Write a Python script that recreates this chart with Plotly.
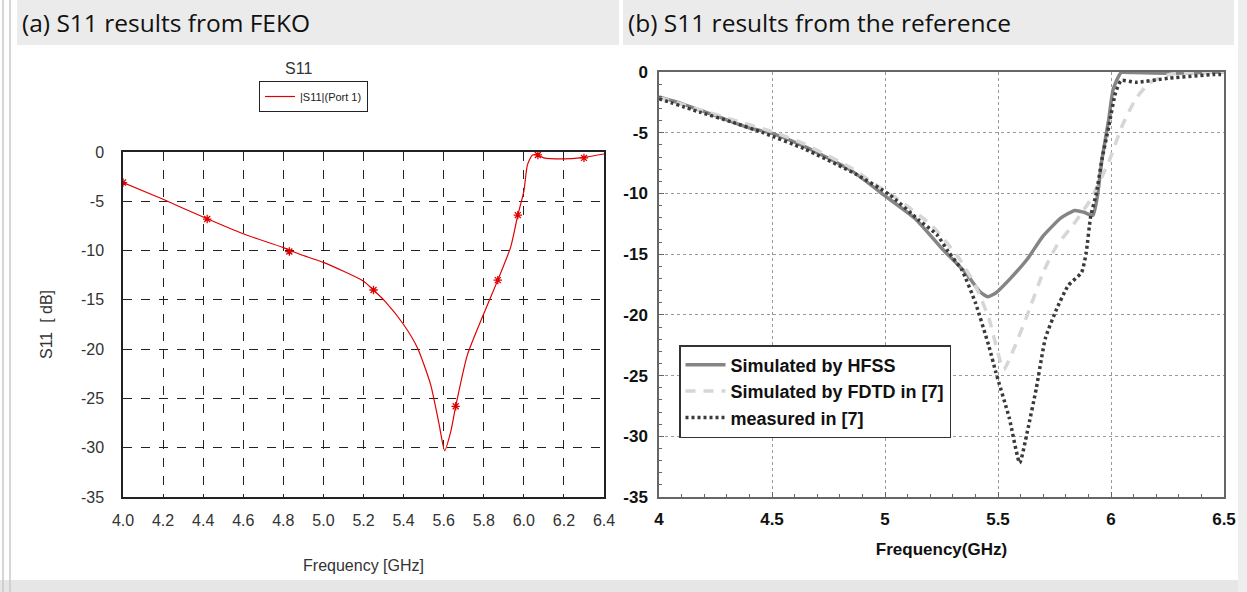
import plotly.graph_objects as go

W, H = 1247, 592

# ---------------- Data: (a) FEKO ----------------
feko_freq = [4.0, 4.2, 4.4, 4.6, 4.8, 4.885, 5.0, 5.2, 5.25, 5.31, 5.4, 5.47, 5.535, 5.577, 5.605,
             5.635, 5.66, 5.718, 5.8, 5.868, 5.935, 5.97, 6.0, 6.018, 6.043, 6.07, 6.1, 6.2, 6.28, 6.4]
feko_s11 = [-3.1, -4.8, -6.6, -8.3, -9.7, -10.4, -11.2, -13.1, -14.0, -15.2, -17.5, -19.9, -23.6, -27.6, -30.3,
            -28.4, -25.8, -20.6, -16.4, -13.1, -9.6, -6.4, -4.0, -1.3, -0.3, -0.3, -0.6, -0.7, -0.6, -0.2]
feko_mark_freq = [4.0, 4.42, 4.83, 5.25, 5.66, 5.87, 5.97, 6.07, 6.3]
feko_mark_s11 = [-3.1, -6.8, -10.1, -14.0, -25.8, -13.0, -6.4, -0.3, -0.6]
feko_xticks = [4.0, 4.2, 4.4, 4.6, 4.8, 5.0, 5.2, 5.4, 5.6, 5.8, 6.0, 6.2, 6.4]
feko_yticks = [0, -5, -10, -15, -20, -25, -30, -35]

# ---------------- Data: (b) reference ----------------
hfss_freq = [4.0, 4.1, 4.25, 4.4, 4.5, 4.64, 4.85, 5.0, 5.135, 5.255, 5.36, 5.42, 5.455, 5.49, 5.55,
             5.63, 5.70, 5.78, 5.84, 5.88, 5.92, 5.94, 5.96, 5.99, 6.01, 6.045, 6.1, 6.25, 6.5]
hfss_s11 = [-2.05, -2.6, -3.6, -4.6, -5.05, -6.1, -8.1, -10.2, -12.1, -14.6, -16.6, -18.1, -18.5, -18.2, -17.1,
            -15.4, -13.5, -12.0, -11.4, -11.55, -11.8, -10.2, -7.2, -3.9, -1.4, -0.05, -0.05, -0.1, 0.0]

fdtd_freq = [4.0, 4.18, 4.32, 4.5, 4.64, 4.85, 5.0, 5.06, 5.21, 5.33, 5.40, 5.46, 5.525, 5.57, 5.63,
             5.70, 5.76, 5.84, 5.91, 5.99, 6.05, 6.11, 6.17, 6.26, 6.5]
fdtd_s11 = [-2.1, -3.1, -3.9, -4.9, -5.9, -7.9, -9.8, -10.5, -12.7, -15.4, -17.6, -20.3, -24.5, -22.8, -20.0,
            -16.5, -14.3, -12.4, -10.5, -7.4, -4.4, -2.2, -0.9, -0.2, 0.0]

meas_freq = [4.0, 4.18, 4.32, 4.46, 4.64, 4.87, 5.02, 5.15, 5.23, 5.28, 5.34, 5.40, 5.46, 5.49, 5.55,
             5.596, 5.63, 5.67, 5.71, 5.76, 5.81, 5.87, 5.89, 5.91, 5.935, 5.96, 5.99, 6.02, 6.045,
             6.11, 6.26, 6.46, 6.5]
meas_s11 = [-2.2, -3.3, -4.1, -5.0, -6.3, -8.4, -10.1, -12.2, -13.4, -14.8, -16.3, -19.0, -22.6, -24.7, -28.5,
            -32.2, -29.6, -26.0, -21.9, -19.5, -17.6, -16.5, -14.9, -11.9, -10.0, -7.2, -4.5, -1.7, -0.7,
            -0.85, -0.5, -0.2, -0.2]
ref_xticks = [4, 4.5, 5, 5.5, 6, 6.5]
ref_xlabels = ["4", "4.5", "5", "5.5", "6", "6.5"]
ref_yticks = [0, -5, -10, -15, -20, -25, -30, -35]


def px(x):
    return x / W


def py(y):
    return 1 - y / H


fig = go.Figure()

# (a) FEKO traces
fig.add_trace(go.Scatter(x=feko_freq, y=feko_s11, mode="lines", name="|S11|(Port 1)",
                         line=dict(color="#e00000", width=1.2, shape="spline", smoothing=0.6),
                         xaxis="x", yaxis="y", legend="legend"))
fig.add_trace(go.Scatter(x=feko_mark_freq, y=feko_mark_s11, mode="markers", showlegend=False,
                         marker=dict(symbol="asterisk-open", size=7, color="#e00000",
                                     line=dict(color="#e00000", width=1.3)),
                         xaxis="x", yaxis="y"))

# (b) reference traces
fig.add_trace(go.Scatter(x=hfss_freq, y=hfss_s11, mode="lines", name="Simulated by HFSS",
                         line=dict(color="#858585", width=3.5, shape="spline", smoothing=0.5),
                         xaxis="x2", yaxis="y2", legend="legend2"))
fig.add_trace(go.Scatter(x=fdtd_freq, y=fdtd_s11, mode="lines", name="Simulated by FDTD in [7]",
                         line=dict(color="#d6d6d6", width=3.5, dash="10px,8px", shape="spline", smoothing=0.5),
                         xaxis="x2", yaxis="y2", legend="legend2"))
fig.add_trace(go.Scatter(x=meas_freq, y=meas_s11, mode="lines", name="measured in [7]",
                         line=dict(color="#3a3a3a", width=3.5, dash="3px,3px", shape="spline", smoothing=0.5),
                         xaxis="x2", yaxis="y2", legend="legend2"))

feko_font = dict(family="Liberation Sans, Arial, sans-serif", size=16, color="#333333")
ref_font = dict(family="Liberation Sans, Arial, sans-serif", size=17, color="#111111", weight="bold")
head_font = dict(family="Open Sans, sans-serif", size=24.5, color="#111111")

shapes = [
    # header bands
    dict(type="rect", xref="paper", yref="paper", x0=px(17), x1=px(619), y0=py(45), y1=py(0),
         fillcolor="#ebebeb", line=dict(width=0), layer="below"),
    dict(type="rect", xref="paper", yref="paper", x0=px(623), x1=px(1234), y0=py(45), y1=py(0),
         fillcolor="#ebebeb", line=dict(width=0), layer="below"),
    # bottom band
    dict(type="rect", xref="paper", yref="paper", x0=0, x1=1, y0=0, y1=py(580),
         fillcolor="#e6e6e6", line=dict(width=0), layer="below"),
    # left edge lines
    dict(type="line", xref="paper", yref="paper", x0=px(3), x1=px(3), y0=0, y1=1,
         line=dict(color="#c8c8c8", width=1.5)),
    dict(type="line", xref="paper", yref="paper", x0=px(10), x1=px(10), y0=0, y1=1,
         line=dict(color="#c8c8c8", width=1.5)),
    # right edge
    dict(type="rect", xref="paper", yref="paper", x0=px(1238), x1=1, y0=0, y1=1,
         fillcolor="#eeeeee", line=dict(width=0), layer="below"),
]

annotations = [
    dict(text="(a) S11 results from FEKO", xref="paper", yref="paper", x=px(20), y=py(23),
         xanchor="left", yanchor="middle", showarrow=False, font=head_font),
    dict(text="(b) S11 results from the reference", xref="paper", yref="paper", x=px(626), y=py(23),
         xanchor="left", yanchor="middle", showarrow=False, font=head_font),
    dict(text="S11", xref="paper", yref="paper", x=px(298), y=py(68),
         xanchor="center", yanchor="middle", showarrow=False, font=feko_font),
]

fig.update_layout(
    width=W, height=H, margin=dict(l=0, r=0, t=0, b=0, pad=0, autoexpand=False),
    paper_bgcolor="white", plot_bgcolor="white",
    shapes=shapes, annotations=annotations,
    xaxis=dict(domain=[px(123), px(604)], range=[4.0, 6.4], tickvals=feko_xticks,
               ticktext=[f"{v:.1f}" for v in feko_xticks], showgrid=True, gridcolor="#222222",
               griddash="dash", gridwidth=1.2, showline=True, linecolor="#222222", linewidth=1.5,
               mirror=True, ticks="", tickfont=feko_font, zeroline=False, anchor="y",
               ticklabelstandoff=8, automargin=False,
               title=dict(text="Frequency [GHz]", font=feko_font, standoff=32)),
    yaxis=dict(domain=[py(497), py(152)], range=[-35, 0], tickvals=feko_yticks,
               ticktext=[str(v) for v in feko_yticks],
               showgrid=True, gridcolor="#222222", griddash="dash", gridwidth=1.2,
               showline=True, linecolor="#222222", linewidth=1.5, mirror=True, ticks="",
               tickfont=feko_font, zeroline=False, anchor="x", ticklabelstandoff=14,
               automargin=False,
               title=dict(text="S11  [ dB]", font=feko_font, standoff=24)),
    xaxis2=dict(domain=[px(659), px(1224)], range=[4, 6.5], tickvals=ref_xticks,
                ticktext=ref_xlabels, showgrid=True, gridcolor="#9a9a9a",
                griddash="dot", gridwidth=1, showline=True, linecolor="#666666", linewidth=1.5,
                mirror=True, ticks="inside", ticklen=5, tickcolor="#666666", tickfont=ref_font,
                minor=dict(dtick=0.1, ticks="inside", ticklen=3, tickcolor="#666666", showgrid=False),
                zeroline=False, anchor="y2", ticklabelstandoff=6, automargin=False,
                title=dict(text="Frequency(GHz)", font=ref_font, standoff=15)),
    yaxis2=dict(domain=[py(497), py(72)], range=[-35, 0], tickvals=ref_yticks,
                ticktext=[str(v) for v in ref_yticks],
                showgrid=True, gridcolor="#9a9a9a", griddash="dot", gridwidth=1,
                showline=True, linecolor="#666666", linewidth=1.5, mirror=True,
                ticks="inside", ticklen=5, tickcolor="#666666", tickfont=ref_font,
                minor=dict(dtick=1, ticks="inside", ticklen=3, tickcolor="#666666", showgrid=False),
                zeroline=False, anchor="x2", ticklabelstandoff=6, automargin=False),
    legend=dict(x=px(259), y=py(81), xanchor="left", yanchor="top", bgcolor="white",
                bordercolor="#222222", borderwidth=1,
                font=dict(family="Liberation Sans, Arial, sans-serif", size=11, color="#222222"),
                itemwidth=30, tracegroupgap=0),
    legend2=dict(x=px(679), y=py(345), xanchor="left", yanchor="top", bgcolor="white",
                 bordercolor="#333333", borderwidth=1.5,
                 font=dict(family="Liberation Sans, Arial, sans-serif", size=18, color="#111111",
                           weight="bold"),
                 itemwidth=40, tracegroupgap=0),
)

fig.write_html("out.html", config={"displayModeBar": False},
               post_script="document.body.style.margin='0';document.body.style.overflow='hidden';")
